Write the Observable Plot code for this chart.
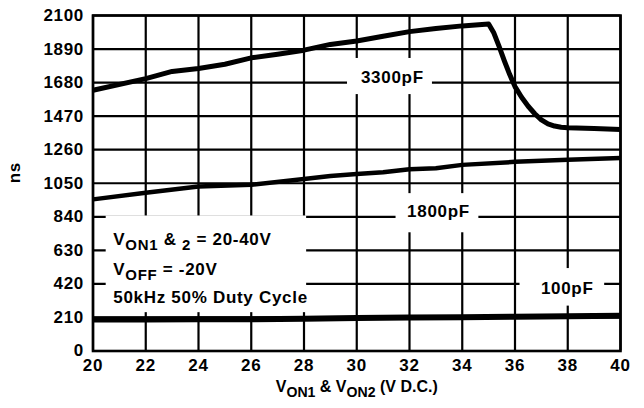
<!DOCTYPE html>
<html>
<head>
<meta charset="utf-8">
<script src="https://cdn.jsdelivr.net/npm/d3@7"></script>
<script src="https://cdn.jsdelivr.net/npm/@observablehq/plot@0.6"></script>
<style>
  html, body { margin: 0; padding: 0; background: #fff; }
  #chart { width: 644px; height: 408px; }
  #chart svg text { letter-spacing: 0.7px; }
  #chart svg text.title-x { letter-spacing: 0; }
</style>
</head>
<body>
<div id="chart"></div>
<script>
// ---- data ----
const xTicks = [20, 22, 24, 26, 28, 30, 32, 34, 36, 38, 40];
const yTicks = [0, 210, 420, 630, 840, 1050, 1260, 1470, 1680, 1890, 2100];

const volts3300 = [20, 22, 23, 24, 25, 26, 27, 28, 29, 30, 31, 32, 33, 34, 35, 35.2, 35.4, 35.6, 35.8, 36, 36.25, 36.5, 36.75, 37, 37.25, 37.5, 37.75, 38, 39, 40];
const ns3300    = [1632, 1705, 1750, 1768, 1795, 1835, 1858, 1883, 1919, 1940, 1970, 1999, 2018, 2035, 2047, 1990, 1905, 1815, 1730, 1655, 1588, 1532, 1485, 1447, 1422, 1408, 1401, 1398, 1393, 1386];

const volts1800 = [20, 22, 24, 26, 28, 29, 30, 31, 32, 33, 34, 36, 38, 40];
const ns1800    = [949, 991, 1029, 1040, 1077, 1096, 1108, 1119, 1138, 1144, 1165, 1184, 1197, 1208];

const volts100 = [20, 22, 24, 26, 28, 30, 32, 34, 36, 38, 40];
const ns100    = [197, 197, 198, 199, 202, 206, 209, 212, 215, 218, 221];

// annotation texts (with _{...} marking subscripts)
const curveLabels = ["3300pF", "1800pF", "100pF"];
const curveLabelX = [31.35, 33.1, 37.98];
const curveLabelY = [1712, 876, 393];
const labelBoxX1 = [29.65, 31.49, 36.19];
const labelBoxX2 = [32.87, 34.63, 39.4];
const labelBoxY1 = [1605, 740, 281];
const labelBoxY2 = [1831, 985, 516];

const noteLines = ["V_{ON1} & _{2} = 20-40V", "V_{OFF} = -20V", "50kHz 50% Duty Cycle"];
const noteX = 20.77;
const noteY = [698, 510, 335];
const noteBox = {x1: 20.5, x2: 28.1, y1: 240, y2: 845};

const xTitle = "V_{ON1} & V_{ON2} (V D.C.)";
const yTitle = "ns";

// ---- build tables ----
const s3300 = volts3300.map((v, i) => ({v, ns: ns3300[i]}));
const s1800 = volts1800.map((v, i) => ({v, ns: ns1800[i]}));
const s100 = volts100.map((v, i) => ({v, ns: ns100[i]}));
const boxes = curveLabels.map((t, i) => ({x1: labelBoxX1[i], x2: labelBoxX2[i], y1: labelBoxY1[i], y2: labelBoxY2[i]}));
boxes.push(noteBox);
const labels = curveLabels.map((t, i) => ({t, x: curveLabelX[i], y: curveLabelY[i]}));
const notes = noteLines.map((t, i) => ({t, x: noteX, y: noteY[i]}));

const FS = 17;
const chart = Plot.plot({
  width: 644,
  height: 408,
  marginLeft: 92.5,
  marginRight: 24,
  marginTop: 15,
  marginBottom: 57.5,
  style: {
    fontFamily: "'Liberation Sans', Arial, Helvetica, sans-serif",
    fontSize: FS + "px",
    fontWeight: "bold",
    background: "#fff",
    color: "#000",
    overflow: "visible"
  },
  x: {domain: [20, 40], ticks: xTicks},
  y: {domain: [0, 2100], ticks: yTicks},
  marks: [
    Plot.gridX(xTicks, {stroke: "#000", strokeOpacity: 1, strokeWidth: 2.2}),
    Plot.gridY(yTicks, {stroke: "#000", strokeOpacity: 1, strokeWidth: 2.2}),
    Plot.rect(boxes, {x1: "x1", x2: "x2", y1: "y1", y2: "y2", fill: "#fff"}),
    Plot.frame({stroke: "#000", strokeWidth: 2.6}),
    Plot.line(s3300, {x: "v", y: "ns", stroke: "#000", strokeWidth: 5, strokeLinecap: "butt", strokeLinejoin: "round"}),
    Plot.line(s1800, {x: "v", y: "ns", stroke: "#000", strokeWidth: 4.5, strokeLinecap: "butt", strokeLinejoin: "round"}),
    Plot.line(s100, {x: "v", y: "ns", stroke: "#000", strokeWidth: 6, strokeLinecap: "butt", strokeLinejoin: "round"}),
    Plot.text(labels, {x: "x", y: "y", text: "t", fill: "#000", fontSize: FS, fontWeight: "bold"}),
    Plot.text(notes, {x: "x", y: "y", text: "t", textAnchor: "start", fill: "#000", fontSize: FS, fontWeight: "bold"}),
    Plot.axisX(xTicks, {tickSize: 0, tickPadding: 8, tickFormat: d3.format("d"), label: null, fontSize: FS, fontWeight: "bold", fill: "#000"}),
    Plot.axisY(yTicks, {tickSize: 0, tickPadding: 9, tickFormat: d3.format("d"), label: null, fontSize: FS, fontWeight: "bold", fill: "#000"}),
    Plot.text([xTitle], {frameAnchor: "bottom", dy: 41, fontSize: 16, fontWeight: "bold", fill: "#000"}),
    Plot.text([yTitle], {frameAnchor: "left", dx: -78, rotate: -90, fontSize: FS, fontWeight: "bold", fill: "#000"})
  ]
});

// turn _{...} markup into real subscript tspans
d3.select(chart).selectAll("text").each(function () {
  const s = this.textContent;
  if (!s.includes("_{")) return;
  const sel = d3.select(this);
  if (s === xTitle) sel.classed("title-x", true);
  const parts = s.split(/(_\{[^}]*\})/).filter(p => p.length);
  sel.text(null);
  let shifted = false;
  for (const p of parts) {
    if (p.startsWith("_{")) {
      sel.append("tspan").attr("font-size", "88%").attr("dy", shifted ? 0 : 5).text(p.slice(2, -1));
      shifted = true;
    } else {
      sel.append("tspan").attr("dy", shifted ? -5 : 0).text(p);
      shifted = false;
    }
  }
});

document.getElementById("chart").appendChild(chart);
</script>
</body>
</html>
